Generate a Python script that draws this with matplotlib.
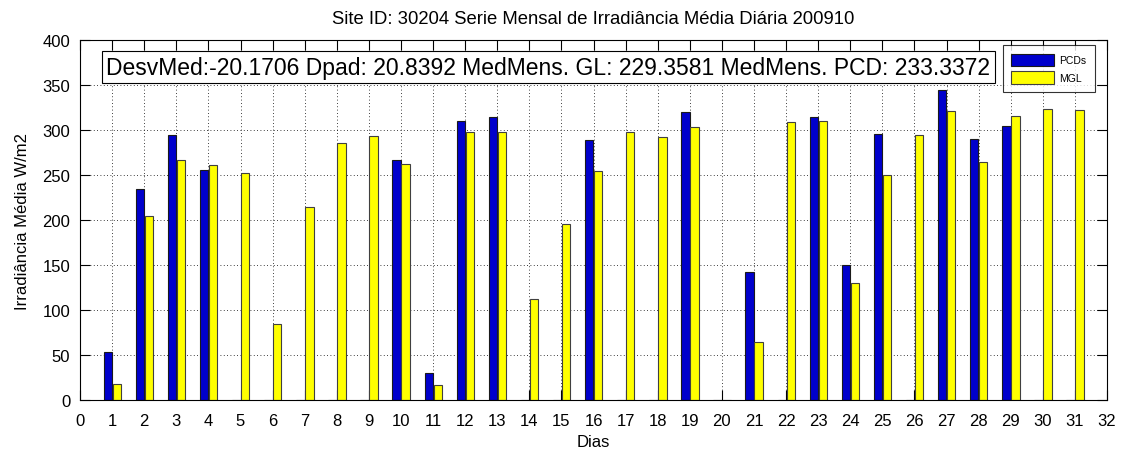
import numpy as np
import matplotlib
matplotlib.use("Agg")
import matplotlib.pyplot as plt

plt.rcParams["font.family"] = ["Liberation Sans", "DejaVu Sans"]

# daily mean irradiance, October 2009 (0 = no data)
dias = list(range(1, 32))
pcds = [53, 235, 294, 256, 0, 0, 0, 0, 0, 267, 30, 310, 314, 0, 0, 289,
        0, 0, 320, 0, 142, 0, 314, 150, 296, 0, 345, 290, 305, 0, 0]
mgl = [18, 204, 267, 261, 252, 85, 214, 286, 293, 262, 17, 298, 298, 112, 196, 254,
       298, 292, 303, 0, 65, 309, 310, 130, 250, 295, 321, 264, 316, 323, 322]

titulo = "Site ID: 30204 Serie Mensal de Irradiância Média Diária 200910"
resumo = "DesvMed:-20.1706 Dpad: 20.8392 MedMens. GL: 229.3581 MedMens. PCD: 233.3372"

fig = plt.figure(figsize=(11.29, 4.56), dpi=100)
ax = fig.add_axes([0.0709, 0.1206, 0.9096, 0.7894])

x = np.array(dias)
w = 0.26
ax.bar(x - 0.135, pcds, width=w, color="#0000cc", edgecolor="#1a1a1a", linewidth=0.8, label="PCDs")
ax.bar(x + 0.145, mgl, width=w, color="#ffff00", edgecolor="#404040", linewidth=0.8, label="MGL")

ax.set_xlim(0, 32)
ax.set_ylim(0, 400)
ax.set_xticks(range(0, 33))
ax.set_yticks(range(0, 401, 50))
ax.grid(True, linestyle=(0, (1, 3)), color="black", linewidth=0.6)
ax.set_axisbelow(True)
ax.tick_params(direction="in", length=7, width=0.8, top=True, right=True, labelsize=12)
ax.tick_params(axis="x", pad=9)
ax.tick_params(axis="y", pad=7)
for s in ax.spines.values():
    s.set_linewidth(0.8)

ax.set_title(titulo, fontsize=13.3, pad=12)
ax.set_xlabel("Dias", fontsize=12, labelpad=5)
ax.set_ylabel("Irradiância Média W/m2", fontsize=12, labelpad=9)

ax.text(0.82, 370, resumo, fontsize=16.5, va="center", ha="left",
        bbox=dict(boxstyle="square,pad=0.2", facecolor="white", edgecolor="black", linewidth=0.8))

leg = ax.legend(loc="upper right", bbox_to_anchor=(0.988, 0.985), fontsize=7.5, fancybox=False,
                edgecolor="black", handlelength=4.1, handleheight=1.45, borderpad=0.8,
                labelspacing=0.5, handletextpad=0.5, borderaxespad=0)
leg.get_frame().set_linewidth(0.8)

fig.savefig("out.png", dpi=100, facecolor="white")
